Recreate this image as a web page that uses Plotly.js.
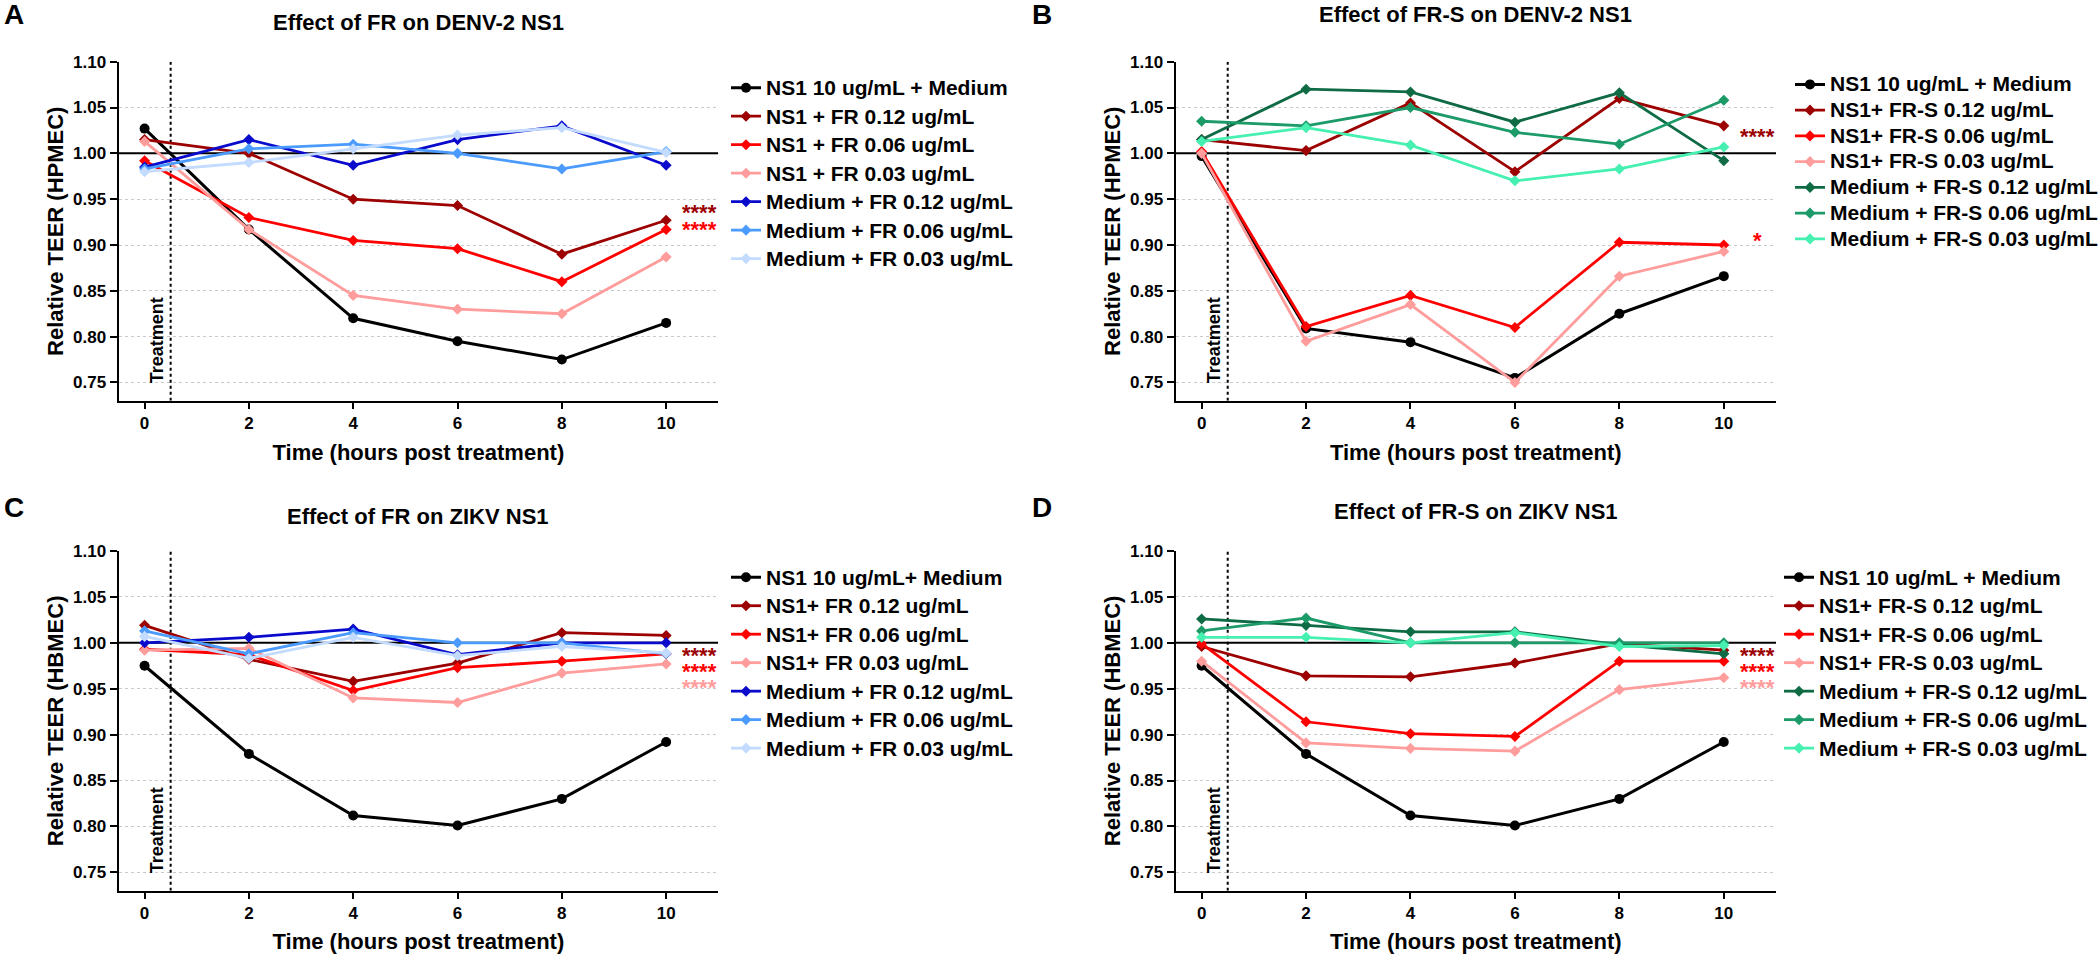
<!DOCTYPE html>
<html><head><meta charset="utf-8">
<script src="https://cdn.plot.ly/plotly-3.0.1.min.js"></script>
<style>html,body{margin:0;padding:0;background:#fff}#chart{width:2100px;height:957px}</style>
</head><body><div id="chart"></div>
<script>
// ---------- data ----------
const hours = [0, 2, 4, 6, 8, 10];
const yTicks = [0.75, 0.80, 0.85, 0.90, 0.95, 1.00, 1.05, 1.10];

// Panel A: Effect of FR on DENV-2 NS1 (HPMEC)
const A_ns1    = [1.027, 0.917, 0.820, 0.795, 0.775, 0.815];
const A_fr012  = [1.015, 1.000, 0.950, 0.943, 0.890, 0.927];
const A_fr006  = [0.992, 0.930, 0.905, 0.896, 0.860, 0.917];
const A_fr003  = [1.013, 0.917, 0.845, 0.830, 0.825, 0.887];
const A_med012 = [0.985, 1.015, 0.987, 1.015, 1.030, 0.987];
const A_med006 = [0.983, 1.005, 1.010, 1.000, 0.983, 1.002];
const A_med003 = [0.980, 0.990, 1.005, 1.020, 1.028, 1.001];

// Panel B: Effect of FR-S on DENV-2 NS1 (HPMEC)
const B_ns1    = [0.997, 0.809, 0.794, 0.755, 0.825, 0.866];
const B_frs012 = [1.015, 1.003, 1.055, 0.980, 1.060, 1.030];
const B_frs006 = [1.002, 0.811, 0.845, 0.810, 0.903, 0.900];
const B_frs003 = [1.000, 0.795, 0.835, 0.750, 0.866, 0.893];
const B_med012 = [1.015, 1.070, 1.067, 1.034, 1.066, 0.992];
const B_med006 = [1.035, 1.030, 1.050, 1.023, 1.010, 1.058];
const B_med003 = [1.013, 1.028, 1.009, 0.970, 0.983, 1.007];

// Panel C: Effect of FR on ZIKV NS1 (HBMEC)
const C_ns1    = [0.975, 0.879, 0.812, 0.801, 0.830, 0.892];
const C_fr012  = [1.019, 0.982, 0.958, 0.978, 1.011, 1.008];
const C_fr006  = [0.993, 0.987, 0.948, 0.973, 0.980, 0.988];
const C_fr003  = [0.992, 0.994, 0.940, 0.935, 0.967, 0.977];
const C_med012 = [1.000, 1.006, 1.015, 0.987, 1.000, 1.000];
const C_med006 = [1.013, 0.988, 1.011, 1.000, 1.000, 0.988];
const C_med003 = [1.007, 0.983, 1.006, 0.986, 0.996, 0.989];

// Panel D: Effect of FR-S on ZIKV NS1 (HBMEC)
const D_ns1    = [0.975, 0.879, 0.812, 0.801, 0.830, 0.892];
const D_frs012 = [0.996, 0.964, 0.963, 0.978, 0.999, 0.992];
const D_frs006 = [0.999, 0.914, 0.901, 0.898, 0.980, 0.980];
const D_frs003 = [0.980, 0.891, 0.885, 0.882, 0.949, 0.962];
const D_med012 = [1.026, 1.019, 1.012, 1.012, 0.998, 0.988];
const D_med006 = [1.013, 1.027, 1.000, 1.000, 1.000, 1.000];
const D_med003 = [1.006, 1.006, 1.000, 1.011, 0.996, 0.997];

// legend labels
const namesA = ['NS1 10 ug/mL + Medium', 'NS1 + FR 0.12 ug/mL', 'NS1 + FR 0.06 ug/mL', 'NS1 + FR 0.03 ug/mL',
                'Medium + FR 0.12 ug/mL', 'Medium + FR 0.06 ug/mL', 'Medium + FR 0.03 ug/mL'];
const namesB = ['NS1 10 ug/mL + Medium', 'NS1+ FR-S 0.12 ug/mL', 'NS1+ FR-S 0.06 ug/mL', 'NS1+ FR-S 0.03 ug/mL',
                'Medium + FR-S 0.12 ug/mL', 'Medium + FR-S 0.06 ug/mL', 'Medium + FR-S 0.03 ug/mL'];
const namesC = ['NS1 10 ug/mL+ Medium', 'NS1+ FR 0.12 ug/mL', 'NS1+ FR 0.06 ug/mL', 'NS1+ FR 0.03 ug/mL',
                'Medium + FR 0.12 ug/mL', 'Medium + FR 0.06 ug/mL', 'Medium + FR 0.03 ug/mL'];
const namesD = ['NS1 10 ug/mL + Medium', 'NS1+ FR-S 0.12 ug/mL', 'NS1+ FR-S 0.06 ug/mL', 'NS1+ FR-S 0.03 ug/mL',
                'Medium + FR-S 0.12 ug/mL', 'Medium + FR-S 0.06 ug/mL', 'Medium + FR-S 0.03 ug/mL'];

const panelTitles = ['Effect of FR on DENV-2 NS1', 'Effect of FR-S on DENV-2 NS1',
                     'Effect of FR on ZIKV NS1', 'Effect of FR-S on ZIKV NS1'];
const panelLetters = ['A', 'B', 'C', 'D'];
const yTitles = ['Relative TEER (HPMEC)', 'Relative TEER (HPMEC)', 'Relative TEER (HBMEC)', 'Relative TEER (HBMEC)'];
const xTitle = 'Time (hours post treatment)';

// significance marks: groups of stacked marks, each [text, colorIndex]; y = centre of the group
const starsA = [{y: 0.932, lineGap: 16.5, marks: [['****', 1], ['****', 2]]}];
const starsB = [{y: 1.024, lineGap: 16, marks: [['****', 1]]}, {y: 0.910, lineGap: 16, marks: [['*', 2]]}];
const starsC = [{y: 0.974, lineGap: 16, marks: [['****', 1], ['****', 2], ['****', 3]]}];
const starsD = [{y: 0.974, lineGap: 16, marks: [['****', 1], ['****', 2], ['****', 3]]}];

// ---------- styles ----------
const colorsFR  = ['#000000', '#9c0000', '#ff0000', '#ff9c9c', '#0a0acc', '#4b9bff', '#c2dbff'];
const colorsFRS = ['#000000', '#9c0000', '#ff0000', '#ff9c9c', '#0e6b44', '#1c9b69', '#45f0b0'];
const FONT = 'Liberation Sans, Arial, Helvetica, sans-serif';
const W = 2100, H = 957;

const panels = [
  {series: [A_ns1, A_fr012, A_fr006, A_fr003, A_med012, A_med006, A_med003], names: namesA, colors: colorsFR, stars: starsA,
   xd: [118.5, 718.3], yd: [61.7, 400.8], titleY: 22.7, letterX: 14, letterY: 15, legX: 726, legY: 68.5, legFs: 19.6},
  {series: [B_ns1, B_frs012, B_frs006, B_frs003, B_med012, B_med006, B_med003], names: namesB, colors: colorsFRS, stars: starsB,
   xd: [1175.5, 1776.0], yd: [61.7, 400.8], titleY: 15, letterX: 1042, letterY: 15, legX: 1790, legY: 66.5, legFs: 17.5},
  {series: [C_ns1, C_fr012, C_fr006, C_fr003, C_med012, C_med006, C_med003], names: namesC, colors: colorsFR, stars: starsC,
   xd: [118.5, 718.3], yd: [551.0, 890.7], titleY: 516.7, letterX: 14, letterY: 508, legX: 726, legY: 558, legFs: 19.6},
  {series: [D_ns1, D_frs012, D_frs006, D_frs003, D_med012, D_med006, D_med003], names: namesD, colors: colorsFRS, stars: starsD,
   xd: [1175.5, 1776.0], yd: [551.0, 890.7], titleY: 511.7, letterX: 1042, letterY: 508, legX: 1779, legY: 558, legFs: 19.6}
];

const traces = [];
const layout = {
  width: W, height: H,
  margin: {l: 0, r: 0, t: 0, b: 0, autoexpand: false},
  paper_bgcolor: '#ffffff', plot_bgcolor: '#ffffff',
  font: {family: FONT, size: 17, color: '#000000', weight: 700},
  showlegend: true,
  shapes: [], annotations: []
};

panels.forEach((p, i) => {
  const n = i + 1;
  const xa = n === 1 ? 'x' : 'x' + n;
  const ya = n === 1 ? 'y' : 'y' + n;
  const legId = n === 1 ? 'legend' : 'legend' + n;

  p.series.forEach((vals, k) => {
    traces.push({
      type: 'scatter', mode: 'lines+markers',
      x: hours, y: vals,
      name: '<span style="font-size:21px">' + p.names[k] + '</span>',
      xaxis: xa, yaxis: ya, legend: legId,
      line: {color: p.colors[k], width: k === 0 ? 3 : 2.8},
      marker: {color: p.colors[k], size: k === 0 ? 10 : 8.5, symbol: k === 0 ? 'circle' : 'diamond'},
      hovertemplate: p.names[k] + ': %{y:.3f} at %{x} h<extra></extra>'
    });
  });

  const xdom = [p.xd[0] / W, p.xd[1] / W];
  const ydom = [1 - p.yd[1] / H, 1 - p.yd[0] / H];
  layout['xaxis' + (n === 1 ? '' : n)] = {
    domain: xdom, anchor: ya, range: [-0.5, 11], tickvals: hours,
    showline: true, linecolor: '#000', linewidth: 2, ticks: 'outside', ticklen: 6, tickwidth: 2, tickcolor: '#000',
    showgrid: false, zeroline: false, tickfont: {size: 17, family: FONT, weight: 700},
    title: {text: xTitle, font: {size: 22, family: FONT, weight: 700}, standoff: 12}
  };
  layout['yaxis' + (n === 1 ? '' : n)] = {
    domain: ydom, anchor: xa, range: [0.73, 1.10], tickvals: yTicks, tickformat: '.2f',
    showline: true, linecolor: '#000', linewidth: 2, ticks: 'outside', ticklen: 7, tickwidth: 2, tickcolor: '#000',
    showgrid: true, gridcolor: '#c9c9c9', gridwidth: 1, griddash: 'dot', zeroline: false,
    tickfont: {size: 17, family: FONT, weight: 700},
    title: {text: yTitles[i], font: {size: 22, family: FONT, weight: 700}, standoff: 3}
  };
  layout[legId] = {
    x: p.legX / W, y: 1 - p.legY / H, xanchor: 'left', yanchor: 'top', xref: 'paper', yref: 'paper',
    bgcolor: 'rgba(0,0,0,0)', borderwidth: 0, font: {size: p.legFs, family: FONT, weight: 700, color: '#000'},
    itemwidth: 30, traceorder: 'normal'
  };

  // reference line at 1.00 and treatment marker
  layout.shapes.push({type: 'line', xref: xa, yref: ya, x0: -0.5, x1: 11, y0: 1, y1: 1,
                      line: {color: '#000', width: 2}, layer: 'between'});
  layout.shapes.push({type: 'line', xref: xa, yref: ya, x0: 0.5, x1: 0.5, y0: 0.73, y1: 1.10,
                      line: {color: '#000', width: 2, dash: 'dot'}, layer: 'between'});

  // panel title
  layout.annotations.push({text: panelTitles[i], xref: 'paper', yref: 'paper',
    x: (p.xd[0] + p.xd[1]) / 2 / W, y: 1 - p.titleY / H, xanchor: 'center', yanchor: 'middle',
    showarrow: false, font: {size: 22, family: FONT, weight: 700}});
  // panel letter
  layout.annotations.push({text: panelLetters[i], xref: 'paper', yref: 'paper',
    x: p.letterX / W, y: 1 - p.letterY / H, xanchor: 'center', yanchor: 'middle',
    showarrow: false, font: {size: 28, family: FONT, weight: 700}});
  // Treatment label
  layout.annotations.push({text: 'Treatment', xref: xa, yref: ya, x: 0.24, y: 0.747,
    xanchor: 'center', yanchor: 'bottom', textangle: -90, showarrow: false,
    font: {size: 18, family: FONT, weight: 700}});
  // significance stars (stacked marks are one multi-line text)
  p.stars.forEach(g => {
    const txt = g.marks.map(m => '<span style="font-size:22px;color:' + p.colors[m[1]] + '">' + m[0] + '</span>').join('<br>');
    layout.annotations.push({text: txt, xref: xa, yref: ya, x: 10.64, y: g.y, yshift: -5,
      xanchor: 'center', yanchor: 'middle', align: 'center', showarrow: false,
      font: {size: g.lineGap / 1.3, family: FONT, weight: 700, color: '#000'}});
  });
});

Plotly.newPlot('chart', traces, layout, {displayModeBar: false, responsive: false});
</script>
</body></html>
